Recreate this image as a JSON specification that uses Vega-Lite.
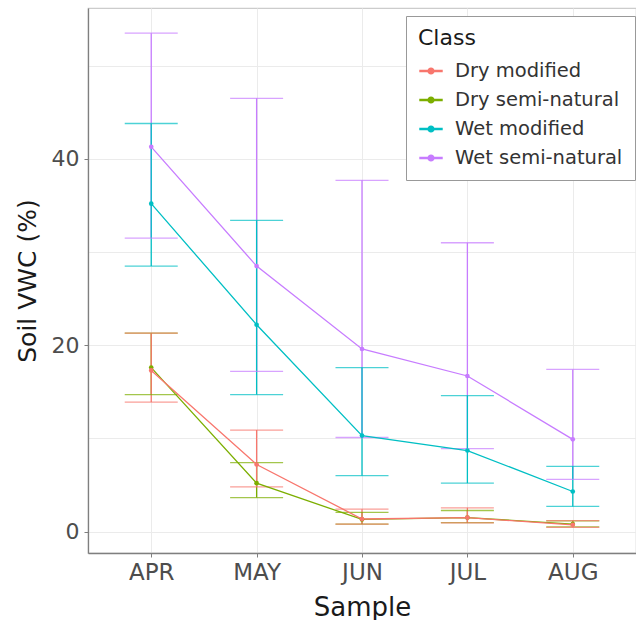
{
  "$schema": "https://vega.github.io/schema/vega-lite/v6.json",
  "autosize": "none",
  "padding": {"left": 88, "top": 8, "right": 0, "bottom": 67},
  "width": 548,
  "height": 545,
  "background": "white",
  "config": {
    "font": "DejaVu Sans",
    "view": {"stroke": "#cccccc", "strokeWidth": 1.2},
    "axis": {
      "domainColor": "#7f7f7f",
      "domainWidth": 1.3,
      "tickColor": "#7f7f7f",
      "tickSize": 4,
      "labelColor": "#4d4d4d",
      "labelFont": "DejaVu Sans",
      "titleFont": "DejaVu Sans",
      "titleColor": "#1a1a1a",
      "titleFontWeight": "normal",
      "gridColor": "#ebebeb",
      "gridWidth": 1
    }
  },
  "data": {
    "values": [
      {"Sample": "APR", "Class": "Dry semi-natural", "mean": 17.6, "lo": 14.7, "hi": 21.3},
      {"Sample": "MAY", "Class": "Dry semi-natural", "mean": 5.2, "lo": 3.65, "hi": 7.4},
      {"Sample": "JUN", "Class": "Dry semi-natural", "mean": 1.3, "lo": 0.8, "hi": 2.07},
      {"Sample": "JUL", "Class": "Dry semi-natural", "mean": 1.5, "lo": 0.95, "hi": 2.26},
      {"Sample": "AUG", "Class": "Dry semi-natural", "mean": 0.8, "lo": 0.5, "hi": 1.15},
      {"Sample": "APR", "Class": "Dry modified", "mean": 17.3, "lo": 13.9, "hi": 21.3},
      {"Sample": "MAY", "Class": "Dry modified", "mean": 7.2, "lo": 4.8, "hi": 10.9},
      {"Sample": "JUN", "Class": "Dry modified", "mean": 1.35, "lo": 0.8, "hi": 2.4},
      {"Sample": "JUL", "Class": "Dry modified", "mean": 1.5, "lo": 0.94, "hi": 2.55},
      {"Sample": "AUG", "Class": "Dry modified", "mean": 0.72, "lo": 0.46, "hi": 1.18},
      {"Sample": "APR", "Class": "Wet semi-natural", "mean": 41.3, "lo": 31.5, "hi": 53.5},
      {"Sample": "MAY", "Class": "Wet semi-natural", "mean": 28.5, "lo": 17.2, "hi": 46.5},
      {"Sample": "JUN", "Class": "Wet semi-natural", "mean": 19.6, "lo": 10.1, "hi": 37.7},
      {"Sample": "JUL", "Class": "Wet semi-natural", "mean": 16.7, "lo": 8.9, "hi": 31.0},
      {"Sample": "AUG", "Class": "Wet semi-natural", "mean": 9.9, "lo": 5.6, "hi": 17.4},
      {"Sample": "APR", "Class": "Wet modified", "mean": 35.2, "lo": 28.5, "hi": 43.8},
      {"Sample": "MAY", "Class": "Wet modified", "mean": 22.2, "lo": 14.7, "hi": 33.4},
      {"Sample": "JUN", "Class": "Wet modified", "mean": 10.3, "lo": 6.0, "hi": 17.6},
      {"Sample": "JUL", "Class": "Wet modified", "mean": 8.7, "lo": 5.2, "hi": 14.6},
      {"Sample": "AUG", "Class": "Wet modified", "mean": 4.3, "lo": 2.7, "hi": 7.0}
    ]
  },
  "encoding": {
    "x": {
      "field": "Sample",
      "type": "ordinal",
      "sort": ["APR", "MAY", "JUN", "JUL", "AUG"],
      "scale": {"type": "point", "padding": 0.6},
      "axis": {
        "title": "Sample",
        "titleFontSize": 26,
        "titlePadding": 10,
        "labelFontSize": 23,
        "labelPadding": 4,
        "labelAngle": 0,
        "grid": true
      }
    },
    "color": {
      "field": "Class",
      "type": "nominal",
      "scale": {
        "domain": ["Dry modified", "Dry semi-natural", "Wet modified", "Wet semi-natural"],
        "range": ["#F8766D", "#7CAE00", "#00BFC4", "#C77CFF"]
      },
      "legend": {
        "title": "Class",
        "orient": "none",
        "legendX": 318,
        "legendY": 8,
        "titleFontSize": 22,
        "titleFontWeight": "normal",
        "titleColor": "#1a1a1a",
        "titlePadding": 8,
        "labelFontSize": 19.5,
        "labelLimit": 400,
        "labelColor": "#333333",
        "labelOffset": 11,
        "rowPadding": 6,
        "padding": 12,
        "strokeColor": "#999999",
        "fillColor": "white",
        "symbolType": "M-1,0L1,0M-0.2,0A0.2,0.2,0,1,0,0.2,0A0.2,0.2,0,1,0,-0.2,0Z",
        "symbolSize": 550,
        "symbolStrokeWidth": 2.5,
        "symbolOpacity": 1
      }
    }
  },
  "layer": [
    {
      "mark": {"type": "rule", "strokeWidth": 1.3},
      "encoding": {
        "y": {
          "field": "lo",
          "type": "quantitative",
          "scale": {"domain": [-2.3, 56.2], "nice": false, "zero": false},
          "axis": {
            "title": "Soil VWC (%)",
            "titleFontSize": 25,
            "titlePadding": 11,
            "labelFontSize": 22,
            "labelPadding": 5,
            "values": [0, 10, 20, 30, 40, 50],
            "labelExpr": "datum.value % 20 === 0 ? datum.label : ''",
            "tickOpacity": {"expr": "datum.value % 20 === 0 ? 1 : 0"},
            "grid": true
          }
        },
        "y2": {"field": "hi"}
      }
    },
    {
      "mark": {"type": "tick", "size": 53, "thickness": 1.3, "orient": "horizontal"},
      "encoding": {"y": {"field": "lo", "type": "quantitative"}}
    },
    {
      "mark": {"type": "tick", "size": 53, "thickness": 1.3, "orient": "horizontal"},
      "encoding": {"y": {"field": "hi", "type": "quantitative"}}
    },
    {
      "mark": {"type": "line", "strokeWidth": 1.3},
      "encoding": {"y": {"field": "mean", "type": "quantitative"}}
    },
    {
      "mark": {"type": "point", "filled": true, "size": 22, "opacity": 1},
      "encoding": {"y": {"field": "mean", "type": "quantitative"}}
    }
  ]
}
